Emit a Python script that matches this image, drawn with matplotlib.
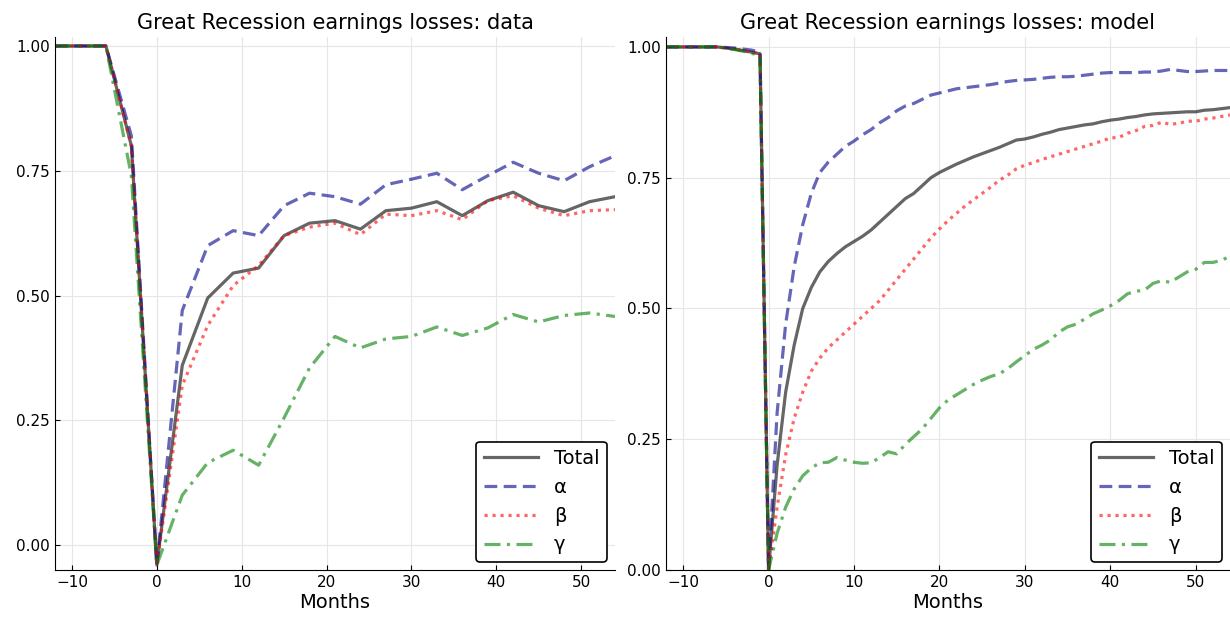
import matplotlib.pyplot as plt
import numpy as np

# data panel: quarterly observations
months_data = [-12, -9, -6, -3, 0, 3, 6, 9, 12, 15, 18, 21, 24, 27, 30, 33, 36, 39, 42, 45, 48, 51, 54]
total_data = [1.0, 1.0, 1.0, 0.80, -0.04, 0.36, 0.495, 0.545, 0.555, 0.62, 0.645, 0.65, 0.633, 0.67, 0.675,
              0.688, 0.66, 0.69, 0.707, 0.68, 0.668, 0.688, 0.698]
alpha_data = [1.0, 1.0, 1.0, 0.82, -0.04, 0.47, 0.60, 0.63, 0.62, 0.68, 0.705, 0.698, 0.683, 0.722, 0.733,
              0.745, 0.712, 0.74, 0.767, 0.745, 0.73, 0.758, 0.78]
beta_data = [1.0, 1.0, 1.0, 0.80, -0.04, 0.32, 0.44, 0.52, 0.56, 0.62, 0.637, 0.645, 0.622, 0.663, 0.66,
             0.67, 0.652, 0.69, 0.70, 0.675, 0.66, 0.67, 0.672]
gamma_data = [1.0, 1.0, 1.0, 0.74, -0.04, 0.10, 0.165, 0.19, 0.16, 0.255, 0.355, 0.418, 0.395, 0.413, 0.418,
              0.437, 0.42, 0.435, 0.462, 0.447, 0.46, 0.465, 0.458]

# model panel: monthly, -12..54
months_model = list(range(-12, 55))
pre_total = [1.0, 1.0, 1.0, 1.0, 1.0, 1.0, 1.0, 0.998, 0.996, 0.993, 0.99, 0.987]
pre_alpha = [1.0, 1.0, 1.0, 1.0, 1.0, 1.0, 1.0, 0.999, 0.998, 0.996, 0.994, 0.99]
pre_gamma = [1.0, 1.0, 1.0, 1.0, 1.0, 1.0, 1.0, 0.998, 0.995, 0.992, 0.988, 0.983]
total_model = pre_total + [0.0,
    0.20, 0.34, 0.43, 0.50, 0.54, 0.57, 0.59, 0.605, 0.618, 0.628, 0.638, 0.65, 0.665, 0.68, 0.695, 0.71, 0.72,
    0.735, 0.75, 0.76, 0.768, 0.776, 0.783, 0.79, 0.796, 0.802, 0.808, 0.815, 0.822, 0.824, 0.828, 0.833, 0.837,
    0.842, 0.845, 0.848, 0.851, 0.853, 0.857, 0.86, 0.862, 0.865, 0.867, 0.87, 0.872, 0.873, 0.874, 0.875, 0.876,
    0.876, 0.879, 0.88, 0.882, 0.884]
alpha_model = pre_alpha + [0.0,
    0.30, 0.47, 0.58, 0.66, 0.72, 0.76, 0.78, 0.795, 0.81, 0.82, 0.832, 0.842, 0.855, 0.865, 0.878, 0.887, 0.892,
    0.90, 0.908, 0.912, 0.916, 0.92, 0.922, 0.924, 0.926, 0.928, 0.931, 0.934, 0.936, 0.937, 0.938, 0.94, 0.942,
    0.943, 0.943, 0.944, 0.946, 0.948, 0.95, 0.951, 0.951, 0.951, 0.951, 0.952, 0.952, 0.954, 0.957, 0.955, 0.953,
    0.953, 0.954, 0.955, 0.955, 0.955]
beta_model = pre_total + [0.0,
    0.12, 0.22, 0.29, 0.34, 0.38, 0.405, 0.425, 0.44, 0.455, 0.47, 0.485, 0.50, 0.515, 0.535, 0.555, 0.575, 0.595,
    0.615, 0.635, 0.652, 0.668, 0.682, 0.696, 0.708, 0.72, 0.732, 0.745, 0.755, 0.767, 0.774, 0.779, 0.785, 0.79,
    0.795, 0.80, 0.805, 0.81, 0.815, 0.82, 0.826, 0.827, 0.835, 0.84, 0.848, 0.85, 0.856, 0.852, 0.854, 0.858,
    0.858, 0.862, 0.864, 0.867, 0.87]
gamma_model = pre_gamma + [0.0,
    0.07, 0.12, 0.155, 0.18, 0.195, 0.205, 0.206, 0.215, 0.21, 0.206, 0.204, 0.205, 0.215, 0.226, 0.222, 0.24, 0.255,
    0.27, 0.29, 0.31, 0.325, 0.335, 0.345, 0.355, 0.363, 0.37, 0.375, 0.385, 0.398, 0.41, 0.422, 0.43, 0.44,
    0.455, 0.465, 0.47, 0.48, 0.49, 0.497, 0.505, 0.515, 0.528, 0.533, 0.535, 0.548, 0.553, 0.55, 0.56, 0.57,
    0.575, 0.588, 0.588, 0.592, 0.60]

styles = [('Total', 'black', '-'), ('α', 'darkblue', (0, (4, 2))),
          ('β', 'red', (0, (1, 1.5))), ('γ', 'green', (0, (5, 2, 1, 2)))]


def draw(ax, x, series, title, ylim, yticks):
    for (label, color, ls), y in zip(styles, series):
        ax.plot(x, y, color=color, alpha=0.6, linestyle=ls, linewidth=2.3, label=label)
    ax.set_title(title, fontsize=15)
    ax.set_xlim(-12, 54)
    ax.set_ylim(*ylim)
    ax.set_yticks(yticks)
    ax.set_yticklabels([f'{v:.2f}' for v in yticks])
    ax.set_xticks([-10, 0, 10, 20, 30, 40, 50])
    ax.set_xlabel('Months', fontsize=14, labelpad=2)
    ax.tick_params(direction='in', labelsize=11)
    ax.grid(True, color='#e6e6e6', linewidth=0.8)
    ax.spines['top'].set_visible(False)
    ax.spines['right'].set_visible(False)
    leg = ax.legend(loc='lower right', fontsize=14, fancybox=True, framealpha=1,
                    edgecolor='black', handlelength=2.8, borderaxespad=0.4)
    leg.get_frame().set_linewidth(1.2)


fig = plt.figure(figsize=(12.3, 6.18), dpi=100)
ax1 = fig.add_axes([55 / 1230, 48 / 618, 560 / 1230, 533 / 618])
ax2 = fig.add_axes([666 / 1230, 48 / 618, 564 / 1230, 533 / 618])
draw(ax1, months_data, [total_data, alpha_data, beta_data, gamma_data],
     'Great Recession earnings losses: data', (-0.05, 1.018), [0.0, 0.25, 0.5, 0.75, 1.0])
draw(ax2, months_model, [total_model, alpha_model, beta_model, gamma_model],
     'Great Recession earnings losses: model', (0.0, 1.019), [0.0, 0.25, 0.5, 0.75, 1.0])
fig.savefig('out.png')
